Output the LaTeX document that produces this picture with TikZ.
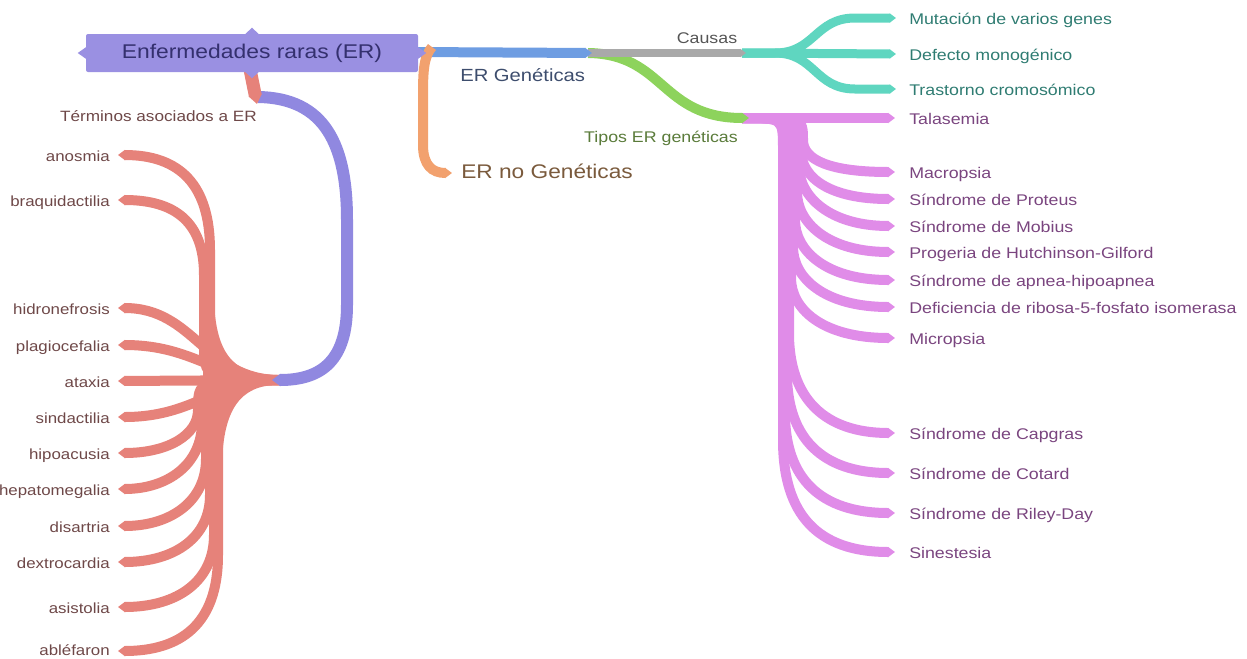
\documentclass[tikz,border=0pt]{standalone}
\usepackage{fontspec}
\setmainfont{Liberation Sans}[FakeStretch=1.15]
\usetikzlibrary{arrows.meta,calc,backgrounds}
\definecolor{rootfill}{HTML}{9A90E2}
\definecolor{roottext}{HTML}{34306E}
\definecolor{termline}{HTML}{9088E0}
\definecolor{redline}{HTML}{E6827A}
\definecolor{redtext}{HTML}{6E4848}
\definecolor{blueline}{HTML}{6E9DE2}
\definecolor{bluetext}{HTML}{3D4D6D}
\definecolor{orangeline}{HTML}{F2A16E}
\definecolor{orangetext}{HTML}{7A5A3C}
\definecolor{greyline}{HTML}{A9A9A9}
\definecolor{greytext}{HTML}{555555}
\definecolor{tealline}{HTML}{5FD6C0}
\definecolor{tealtext}{HTML}{2F7C72}
\definecolor{greenline}{HTML}{8DD35C}
\definecolor{greentext}{HTML}{5A7B3A}
\definecolor{pinkline}{HTML}{E08CE8}
\definecolor{pinktext}{HTML}{7A457F}
\begin{document}
\begin{tikzpicture}[x=0.75pt,y=-0.75pt,
  lbl/.style={inner sep=0pt, yshift=-2.25pt, font=\fontsize{11.6pt}{13pt}\selectfont, text height=1.5ex, text depth=.6ex},
  leafR/.style={lbl, anchor=west},
  leafL/.style={lbl, anchor=east, text=redtext, font=\fontsize{11pt}{13pt}\selectfont},
  rootbox/.style={fill=rootfill, text=roottext, minimum width=249pt, minimum height=28.5pt, inner sep=0pt, rounded corners=1.5pt, font=\fontsize{14.9pt}{16pt}\selectfont},
  br/.style={line width=#1, -{Triangle[length=0pt 0.7,width=0pt 1]}},
  br/.default=7.5pt,
  pk/.style={br, pinkline},
  rd/.style={br, redline},
  tl/.style={br=6.75pt, tealline}
]
\useasboundingbox (0,0) rectangle (1247,658);

% ---------- nodes ----------
\node[rootbox] (root) at (252,53) {Enfermedades raras (ER)};
\fill[rootfill] ($(root.north)+(-7,0.5)$) -- ($(root.north)+(0,-6)$) -- ($(root.north)+(7,0.5)$) -- cycle;
\fill[rootfill] ($(root.south)+(-7,-0.5)$) -- ($(root.south)+(0,6)$) -- ($(root.south)+(7,-0.5)$) -- cycle;
\fill[rootfill] ($(root.west)+(0.5,-6)$) -- ($(root.west)+(-8,0)$) -- ($(root.west)+(0.5,6)$) -- cycle;
\fill[rootfill] ($(root.east)+(-0.5,-6)$) -- ($(root.east)+(8,0)$) -- ($(root.east)+(-0.5,6)$) -- cycle;

\node[lbl, anchor=west, text=bluetext, font=\fontsize{13.2pt}{15pt}\selectfont] (ergen) at (460,75) {ER Genéticas};
\node[lbl, anchor=west, text=orangetext, font=\fontsize{14.8pt}{16pt}\selectfont] (ernogen) at (461,172) {ER no Genéticas};
\node[lbl, text=greytext] (causas) at (707,37) {Causas};
\node[lbl, text=greentext] (tipos) at (661,136) {Tipos ER genéticas};
\node[lbl, anchor=east, text=redtext, font=\fontsize{11.2pt}{13pt}\selectfont] (terms) at (257,115) {Términos asociados a ER};

\node[leafR, text=tealtext] (mut) at (909,18) {Mutación de varios genes};
\node[leafR, text=tealtext] (def) at (909,54) {Defecto monogénico};
\node[leafR, text=tealtext] (tras) at (909,89) {Trastorno cromosómico};

\node[leafR, text=pinktext] (tal) at (909,118) {Talasemia};
\node[leafR, text=pinktext] (mac) at (909,172) {Macropsia};
\node[leafR, text=pinktext] (pro) at (909,199) {Síndrome de Proteus};
\node[leafR, text=pinktext] (mob) at (909,226) {Síndrome de Mobius};
\node[leafR, text=pinktext] (prog) at (909,252) {Progeria de Hutchinson-Gilford};
\node[leafR, text=pinktext] (apn) at (909,280) {Síndrome de apnea-hipoapnea};
\node[leafR, text=pinktext] (defi) at (909,307) {Deficiencia de ribosa-5-fosfato isomerasa};
\node[leafR, text=pinktext] (micro) at (909,338) {Micropsia};
\node[leafR, text=pinktext] (cap) at (909,433) {Síndrome de Capgras};
\node[leafR, text=pinktext] (cot) at (909,473) {Síndrome de Cotard};
\node[leafR, text=pinktext] (ril) at (909,513) {Síndrome de Riley-Day};
\node[leafR, text=pinktext] (sin) at (909,552) {Sinestesia};

\node[leafL] (ano) at (110,155) {anosmia};
\node[leafL] (braq) at (110,200) {braquidactilia};
\node[leafL] (hidro) at (110,308) {hidronefrosis};
\node[leafL] (plag) at (110,345) {plagiocefalia};
\node[leafL] (atax) at (110,381) {ataxia};
\node[leafL] (sind) at (110,417) {sindactilia};
\node[leafL] (hipo) at (110,453) {hipoacusia};
\node[leafL] (hepa) at (110,489) {hepatomegalia};
\node[leafL] (disa) at (110,526) {disartria};
\node[leafL] (dext) at (110,562) {dextrocardia};
\node[leafL] (asis) at (110,607) {asistolia};
\node[leafL] (able) at (110,649) {abléfaron};

\coordinate (S) at (742,118);
\coordinate (T) at (742,53);
\coordinate (J) at (280,380);
\coordinate (Jp) at (272,380);
\coordinate (G) at (588,53);
\coordinate (P0) at (258,97);

% ---------- connectors ----------
\begin{scope}[on background layer]
% pink fan
\fill[pinkline] (745,113) .. controls (782,113) and (789,128) .. (789,170) -- (806,170) -- (806,123) -- (760,123) -- (745,123) -- cycle;
\draw[pk] (S) -- ($(tal.west)+(-14,-3)$);
\draw[pk] (S) .. controls (803,118) and (803,118) .. (803,140) .. controls (803,160) and (830,172) .. ($(mac.west)+(-14,-3)$);
\draw[pk] (S) .. controls (801,118) and (801,118) .. (801,150) .. controls (801,178) and (830,199) .. ($(pro.west)+(-14,-3)$);
\draw[pk] (S) .. controls (799,118) and (799,118) .. (799,150) -- (799,166) .. controls (799,196) and (829,226) .. ($(mob.west)+(-14,-3)$);
\draw[pk] (S) .. controls (797,118) and (797,118) .. (797,150) -- (797,192) .. controls (797,222) and (827,252) .. ($(prog.west)+(-14,-3)$);
\draw[pk] (S) .. controls (795,118) and (795,118) .. (795,150) -- (795,220) .. controls (795,250) and (825,280) .. ($(apn.west)+(-14,-3)$);
\draw[pk] (S) .. controls (793,118) and (793,118) .. (793,150) -- (793,247) .. controls (793,277) and (823,307) .. ($(defi.west)+(-14,-3)$);
\draw[pk] (S) .. controls (791,118) and (791,118) .. (791,150) -- (791,278) .. controls (791,308) and (821,338) .. ($(micro.west)+(-14,-3)$);
\draw[pk] (S) .. controls (789,118) and (789,118) .. (789,150) -- (789,333) .. controls (789,398) and (824,433) .. ($(cap.west)+(-14,-3)$);
\draw[pk] (S) .. controls (787,118) and (787,118) .. (787,150) -- (787,373) .. controls (787,438) and (822,473) .. ($(cot.west)+(-14,-3)$);
\draw[pk] (S) .. controls (785,118) and (785,118) .. (785,150) -- (785,413) .. controls (785,478) and (820,513) .. ($(ril.west)+(-14,-3)$);
\draw[pk] (S) .. controls (783,118) and (783,118) .. (783,150) -- (783,440) .. controls (783,515) and (818,552) .. ($(sin.west)+(-14,-3)$);
% teal fan
\draw[tl] (T) -- ($(def.west)+(-13,-3)$);
\draw[tl] (T) -- (775,53) .. controls (815,53) and (815,18) .. (855,18) -- ($(mut.west)+(-13,-3)$);
\draw[tl] (T) -- (775,53) .. controls (815,53) and (815,89) .. (855,89) -- ($(tras.west)+(-13,-3)$);
% green, grey, blue, orange
\draw[br, greenline] (G) .. controls (665,54) and (660,118) .. ($(S)+(7,0)$);
\draw[br=6pt, greyline] (G) -- ($(T)+(4,0)$);
\draw[br, blueline] ($(root.east)+(-3,-1)$) -- ($(G)+(4,0)$);
\draw[br, orangeline] (432,47) .. controls (424,56) and (423,70) .. (423,95) -- (423,145) .. controls (423,165) and (432,173) .. ($(ernogen.west)+(-9,-2)$);
% red fan
\fill[redline] (278,375) .. controls (240,375) and (216,362) .. (214,300) -- (204,300) -- (202,470) -- (222,470) .. controls (222,410) and (240,385) .. (278,385) -- cycle;
\draw[rd] (J) -- ($(atax.east)+(8,-3)$);
\draw[rd] (J) .. controls (215,380) and (195,345) .. ($(plag.east)+(8,-3)$);
\draw[rd] (J) .. controls (205,380) and (195,308) .. ($(hidro.east)+(8,-3)$);
\draw[rd] (J) .. controls (204,380) and (204,380) .. (204,340) -- (204,275) .. controls (204,222) and (175,200) .. ($(braq.east)+(8,-3)$);
\draw[rd] (J) .. controls (210,380) and (210,380) .. (210,340) -- (210,250) .. controls (210,185) and (180,155) .. ($(ano.east)+(8,-3)$);
\draw[rd] (J) .. controls (215,380) and (195,417) .. ($(sind.east)+(8,-3)$);
\draw[rd] (J) .. controls (198,380) and (198,380) .. (198,410) .. controls (198,435) and (168,453) .. ($(hipo.east)+(8,-3)$);
\draw[rd] (J) .. controls (202,380) and (202,380) .. (202,415) -- (202,422) .. controls (202,465) and (167,489) .. ($(hepa.east)+(8,-3)$);
\draw[rd] (J) .. controls (206,380) and (206,380) .. (206,415) -- (206,459) .. controls (206,501) and (171,526) .. ($(disa.east)+(8,-3)$);
\draw[rd] (J) .. controls (210,380) and (210,380) .. (210,415) -- (210,495) .. controls (210,537) and (175,562) .. ($(dext.east)+(8,-3)$);
\draw[rd] (J) .. controls (214,380) and (214,380) .. (214,415) -- (214,535) .. controls (214,580) and (179,607) .. ($(asis.east)+(8,-3)$);
\draw[rd] (J) .. controls (218,380) and (218,380) .. (218,415) -- (218,555) .. controls (218,625) and (180,651) .. ($(able.east)+(8,-1)$);
% purple link and red stub
\draw[br=9pt, termline] (P0) .. controls (325,98) and (347,145) .. (347,220) -- (347,305) .. controls (347,360) and (322,380) .. (Jp);
\draw[br=9.75pt, redline] ($(root.south)+(-2,-3)$) -- (257,104);
\end{scope}
\end{tikzpicture}
\end{document}
